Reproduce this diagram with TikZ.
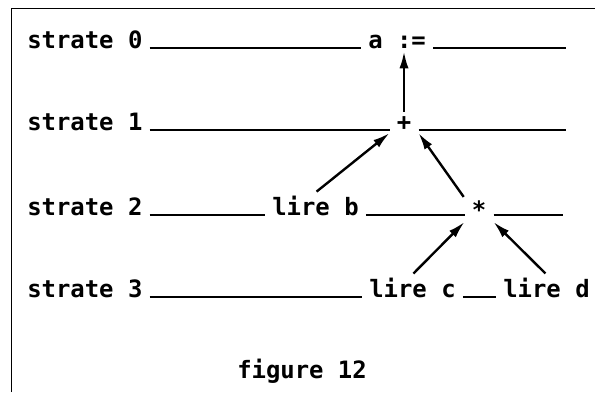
\documentclass[tikz,border=0pt]{standalone}
\usepackage{fontspec}
\setmonofont{DejaVu Sans Mono}
\usetikzlibrary{arrows.meta, positioning}

\tikzset{
  lbl/.style={font=\ttfamily\bfseries\fontsize{17}{20}\selectfont,
              inner xsep=5pt, inner ysep=2pt, anchor=base west},
  op/.style={lbl, anchor=base},
  strat/.style={line width=1.1pt},
  dep/.style={line width=1.7pt, -{Latex[length=12pt,width=6.5pt]}, shorten <=1pt},
  frame/.style={line width=0.6pt}
}

\begin{document}
\begin{tikzpicture}
  \useasboundingbox (0,0) rectangle (14.875,9.8);
  \draw[frame] (0.275,0) |- (14.875,9.6);

  % strate 0
  \node[lbl] (s0) at (0.5,8.6) {strate 0};
  \node[lbl] (asg) at (9.025,8.6) {a :=};
  \coordinate (e0) at (14.15,8.6);
  \draw[strat] (s0.base east) -- (asg.base west);
  \draw[strat] (asg.base east) -- (e0);

  % strate 1
  \node[lbl] (s1) at (0.5,6.55) {strate 1};
  \node[op] (plus) at (10.1,6.55) {+};
  \coordinate (e1) at (14.15,6.55);
  \draw[strat] (s1.base east) -- (plus.base west);
  \draw[strat] (plus.base east) -- (e1);

  % strate 2
  \node[lbl] (s2) at (0.5,4.425) {strate 2};
  \node[lbl] (lireb) at (6.625,4.425) {lire b};
  \node[lbl, anchor=center] (star) at (11.975,4.55) {*};
  \coordinate (e2) at (14.075,4.425);
  \draw[strat] (s2.base east) -- (lireb.base west);
  \draw[strat] (lireb.base east) -- (lireb.base east -| star.west);
  \draw[strat] (star.east |- lireb.base) -- (e2);

  % strate 3
  \node[lbl] (s3) at (0.5,2.375) {strate 3};
  \node[lbl] (lirec) at (9.05,2.375) {lire c};
  \node[lbl] (lired) at (12.4,2.375) {lire d};
  \draw[strat] (s3.base east) -- (lirec.base west);
  \draw[strat] (lirec.base east) -- (lired.base west);

  % dependances
  \draw[dep] (plus.north) -- (asg.south -| plus.north);
  \draw[dep] (lireb.north) -- (plus.south west);
  \draw[dep] (star.north west) -- (plus.south east);
  \draw[dep] (lirec.north) -- (star.south west);
  \draw[dep] (lired.north) -- (star.south east);

  \node[lbl, anchor=base] (fig) at (7.55,0.35) {figure 12};
\end{tikzpicture}
\end{document}
